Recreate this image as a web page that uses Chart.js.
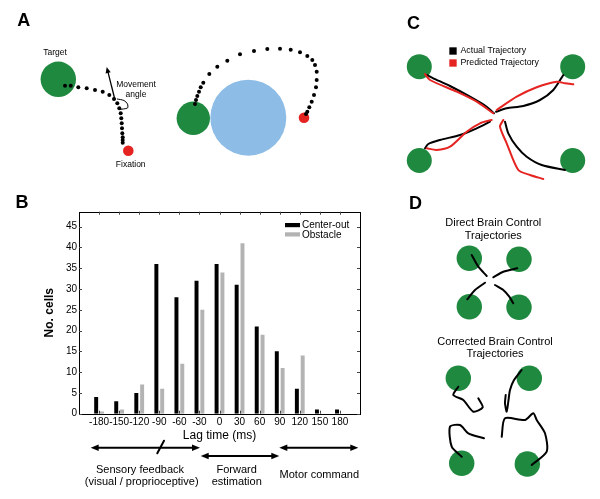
<!DOCTYPE html>
<html><head><meta charset="utf-8">
<script src="https://cdn.jsdelivr.net/npm/chart.js@4.4.1/dist/chart.umd.min.js"></script>
<style>
html,body{margin:0;padding:0;background:#fff;}
#wrap{position:relative;width:600px;height:499px;overflow:hidden;}
#wrap canvas{position:absolute;left:0;top:0;}
</style></head><body>
<div id="wrap"><canvas id="bg" width="600" height="499"></canvas><canvas id="bar" width="600" height="499"></canvas></div>
<script>
// ---------- Panel B data ----------
const lagTimes = [-180,-150,-120,-90,-60,-30,0,30,60,90,120,150,180];
const centerOut = [4,3,5,36,28,32,36,31,21,15,6,1,1];
const obstacle  = [0.5,1,7,6,12,25,34,41,19,11,14,0,0];
const yTickValues = [0,5,10,15,20,25,30,35,40,45];
const seriesNames = ['Center-out','Obstacle'];

// ---------- Diagram data (panels A, C, D), page pixel space ----------
const greenCircles = [[58.3,79.3,17.7],[193.3,118.3,16.7],
  [419.3,66.7,12.5],[572.7,66.7,12.5],[419.3,160.5,12.5],[572.7,160.5,12.5],
  [469.3,258.3,12.7],[519,259.3,12.7],[469.3,306.7,12.7],[519,307.3,12.7],
  [458.3,378.3,12.7],[529.3,378.3,12.7],[461.7,463.3,12.7],[527.3,464,12.7]];
const blueCircles = [[248.3,117.7,38]];
const redCircles = [[128.3,150.7,5.3],[304,117.7,5.3]];
const dotsA1 = [[65,85.7],[70.7,85.7],[78.3,87.3],[86.7,88.3],[95,90],[102.7,91.7],[109.3,95],[114,99],[117.3,103.3],[119.3,108.3],[120.7,113.3],[121.3,118.3],[121.7,123.3],[122,128.3],[122.3,133.3],[122.7,137.3],[122.7,140],[122.7,142.7]];
const dotsA2 = [[195,104],[196,100],[197.3,96],[199,91.7],[200.7,87.3],[203.3,82.7],[209.3,74],[217.3,66.7],[227.3,60.7],[240,54.3],[254,51],[267.3,49],[280,48.7],[290.7,49.7],[300,52.3],[307.3,56],[312.3,60],[315,65],[316.7,71.7],[316.7,80],[316,87.3],[314,95],[311.7,101.7],[309.3,107.3],[307.3,111.7],[306,114]];
const angleArc = [[117.3,99],[124,100.5],[127.5,104],[127.5,108],[119,109.5]];
const blackPathsC = [
  [[426.7,75],[433.3,78.3],[450,86],[470,96.7],[486.7,106.7],[494,113.3]],
  [[496,111.7],[506.7,108.3],[523.3,106],[540,100],[553.3,90],[563.3,75]],
  [[490,121.7],[476.7,128.3],[460,135],[440,140],[428.3,144],[425,148.3]],
  [[505,121.7],[508.3,133.3],[516.7,146.7],[526.7,156.7],[541.7,165],[565,170]]];
const redPathsC = [
  [[425,74],[430,80],[456.7,91.7],[476.7,101.7],[493.3,113.3]],
  [[496.7,110],[516.7,96.7],[536.7,87.3],[556.7,81.7],[565,83.3],[573.3,84.3]],
  [[491.7,120],[480,123.3],[466.7,131.7],[450,146.7],[436.7,150],[426.7,148.3]],
  [[503.3,120],[500,126.7],[506.7,143.3],[518.3,170],[530,175],[543.3,179]]];
const pathsD = [
  [[471.7,255],[478.3,266.7],[486.7,276]],
  [[493.3,277.3],[503.3,271.7],[517.3,268.3]],
  [[485,282.7],[475,290],[467.3,299.3]],
  [[495,285],[503.3,290],[509.3,296.7],[513.3,303.3]],
  [[458.3,386.7],[453.3,395],[463.3,400],[473.3,411.7],[482.7,407.3],[478.3,398.3]],
  [[521.7,370],[514,380],[510,390],[508.3,401.7],[506.7,411.7],[505,403.3],[505.7,395]],
  [[461.7,456.7],[451.7,446.7],[450,426.7],[460,425],[468.3,433.3],[484,438.3]],
  [[531.7,465],[546.7,451.7],[545,433.3],[536.7,420],[533.3,413.3],[525,420],[505,418.3],[501.7,436.7]]];
const legendC = [['Actual Trajectory','#000',453,51],['Predicted Trajectory','#e52421',453,63]];
// arrows: [x1,y1,x2,y2,headAtStart,headAtEnd]
const arrows = [[115,100,106.7,67,false,true],[90.7,447.7,200,447.7,true,true],[200.7,456,279.3,456,true,true],[279.3,447.7,358.3,447.7,true,true]];
const slashB = [[157.3,453.3],[164,440.7]];
const labels = [
  ['A',23.7,21.5,'bold 18px','center'],['B',22,203,'bold 18px','center'],['C',413.5,24,'bold 18px','center'],['D',415.5,204,'bold 18px','center'],
  ['Target',55,53,'8.5px','center'],['Movement',136,84.3,'8.5px','center'],['angle',136,95,'8.5px','center'],['Fixation',130.7,165,'8.5px','center'],
  ['Direct Brain Control',493.3,223.3,'11px','center'],['Trajectories',493.3,236,'11px','center'],
  ['Corrected Brain Control',495,341.7,'11px','center'],['Trajectories',495,354,'11px','center'],
  ['Sensory feedback',140,470,'11px','center'],['(visual / proprioceptive)',141.7,481.7,'11px','center'],
  ['Forward',236.7,470,'11px','center'],['estimation',236.7,481.7,'11px','center'],
  ['Motor command',319.3,475,'11px','center']];

const FONT = '"Liberation Sans", Arial, Helvetica, sans-serif';
const GREEN = '#1f8a3f', BLUE = '#8dbde6', RED = '#e52421';
const pts = a => a.map(p => ({x:p[0], y:p[1]}));

function circleSet(list, color){
  return {type:'scatter', data: pts(list), pointRadius: list.map(c=>c[2]), pointHoverRadius: list.map(c=>c[2]),
    backgroundColor: color, borderWidth:0, pointBorderWidth:0, order: 10};
}
function lineSet(list, color, w, order){
  return {type:'line', data: pts(list), borderColor: color, borderWidth: w, pointRadius:0, fill:false, tension:0.25, order: order||1, borderCapStyle:'round', borderJoinStyle:'round'};
}

const bgDatasets = [
  circleSet(greenCircles, GREEN),
  circleSet(blueCircles, BLUE),
  circleSet(redCircles, RED),
  {type:'scatter', data: pts(dotsA1), pointRadius:2, backgroundColor:'#000', borderWidth:0, order:0},
  {type:'scatter', data: pts(dotsA2), pointRadius:2, backgroundColor:'#000', borderWidth:0, order:0},
  lineSet(angleArc,'#000',1,1),
  lineSet(slashB,'#000',2,1),
  ...blackPathsC.map(p=>lineSet(p,'#000',2,2)),
  ...redPathsC.map(p=>lineSet(p,RED,2,1)),
  ...pathsD.map(p=>lineSet(p,'#000',2,1)),
  {type:'scatter', data: legendC.map(l=>({x:l[2],y:l[3]})), pointStyle:'rect', pointRadius:5.2, backgroundColor: legendC.map(l=>l[1]), borderWidth:0, order:0}
];

const bgPlugin = {
  id:'bgdraw',
  afterDatasetsDraw(chart){
    const ctx = chart.ctx, sx = chart.scales.x, sy = chart.scales.y;
    ctx.save();
    ctx.strokeStyle = '#000'; ctx.fillStyle = '#000';
    arrows.forEach(a=>{
      const x1=sx.getPixelForValue(a[0]), y1=sy.getPixelForValue(a[1]), x2=sx.getPixelForValue(a[2]), y2=sy.getPixelForValue(a[3]);
      const ang = Math.atan2(y2-y1,x2-x1);
      const big = a[1] > 400;
      const L = big ? 8 : 6, W = big ? 3.2 : 2.6;
      ctx.lineWidth = big ? 2 : 1.3;
      ctx.beginPath();
      ctx.moveTo(x1 + (a[4]?Math.cos(ang)*L*0.8:0), y1 + (a[4]?Math.sin(ang)*L*0.8:0));
      ctx.lineTo(x2 - (a[5]?Math.cos(ang)*L*0.8:0), y2 - (a[5]?Math.sin(ang)*L*0.8:0));
      ctx.stroke();
      const head = (x,y,t)=>{
        ctx.beginPath();
        ctx.moveTo(x,y);
        ctx.lineTo(x - Math.cos(t)*L - Math.sin(t)*W, y - Math.sin(t)*L + Math.cos(t)*W);
        ctx.lineTo(x - Math.cos(t)*L + Math.sin(t)*W, y - Math.sin(t)*L - Math.cos(t)*W);
        ctx.closePath(); ctx.fill();
      };
      if (a[5]) head(x2,y2,ang);
      if (a[4]) head(x1,y1,ang+Math.PI);
    });
    ctx.textBaseline = 'middle';
    labels.forEach(l=>{
      ctx.font = l[3] + ' ' + FONT;
      ctx.textAlign = l[4];
      ctx.fillStyle = '#000';
      ctx.fillText(l[0], sx.getPixelForValue(l[1]), sy.getPixelForValue(l[2]));
    });
    ctx.font = '8.8px ' + FONT; ctx.textAlign = 'left';
    legendC.forEach(l=>{
      ctx.fillText(l[0], sx.getPixelForValue(l[2]+7.5), sy.getPixelForValue(l[3]));
    });
    ctx.restore();
  }
};

new Chart(document.getElementById('bg'), {
  type:'scatter',
  data:{datasets: bgDatasets},
  options:{
    responsive:false, animation:false, events:[],
    layout:{padding:0, autoPadding:false},
    plugins:{legend:{display:false}, tooltip:{enabled:false}},
    scales:{
      x:{type:'linear', min:0, max:600, display:false},
      y:{type:'linear', min:0, max:499, reverse:true, display:false}
    }
  },
  plugins:[bgPlugin]
});

// ---------- Panel B bar chart ----------
const boxPlugin = {
  id:'boxticks',
  afterDatasetsDraw(chart){
    const ctx = chart.ctx, a = chart.chartArea, sx = chart.scales.x, sy = chart.scales.y;
    ctx.save();
    ctx.strokeStyle = '#000'; ctx.lineWidth = 1;
    ctx.strokeRect(Math.round(a.left)+0.5, Math.round(a.top)+0.5, Math.round(a.right-a.left), Math.round(a.bottom-a.top));
    ctx.strokeStyle = '#444';
    ctx.beginPath();
    lagTimes.forEach(v=>{
      const x = Math.round(sx.getPixelForValue(v))+0.5;
      ctx.moveTo(x, a.bottom); ctx.lineTo(x, a.bottom-3);
      ctx.moveTo(x, a.top); ctx.lineTo(x, a.top+3);
    });
    yTickValues.forEach(v=>{
      const y = Math.round(sy.getPixelForValue(v))+0.5;
      ctx.moveTo(a.left, y); ctx.lineTo(a.left+3, y);
      ctx.moveTo(a.right, y); ctx.lineTo(a.right-3, y);
    });
    ctx.stroke();
    ctx.font = '10px ' + FONT; ctx.textBaseline = 'middle'; ctx.textAlign = 'left';
    chart.data.datasets.forEach((ds,i)=>{
      const y = a.top + 13.3 + i*9.3;
      ctx.fillStyle = ds.backgroundColor;
      ctx.fillRect(285, y-2, 15, 4.2);
      ctx.fillStyle = '#000';
      ctx.fillText(ds.label, 302, y+0.5);
    });
    ctx.restore();
  }
};

new Chart(document.getElementById('bar'), {
  type:'bar',
  data:{datasets:[
    {label: seriesNames[0], data: lagTimes.map((x,i)=>({x, y:centerOut[i]})), backgroundColor:'#000', categoryPercentage:0.58, barPercentage:0.68},
    {label: seriesNames[1], data: lagTimes.map((x,i)=>({x, y:obstacle[i]})), backgroundColor:'#b3b3b3', categoryPercentage:0.58, barPercentage:0.68}
  ]},
  options:{
    responsive:false, animation:false, events:[],
    layout:{padding:{left:0, top:211.7, right:240, bottom:0}},
    plugins:{legend:{display:false}, tooltip:{enabled:false}},
    scales:{
      x:{type:'linear', min:-210, max:210, offset:false,
        afterBuildTicks: s => { s.ticks = lagTimes.map(v=>({value:v})); },
        ticks:{font:{family:FONT, size:10}, color:'#000', padding:3, maxRotation:0, autoSkip:false, callback: v => String(v)},
        grid:{display:false, drawTicks:false}, border:{display:false},
        title:{display:true, text:'Lag time (ms)', color:'#000', font:{family:FONT, size:12}, padding:{top:0, bottom:56.3}},
        afterFit: s => { s.height = 499 - 413.7; }
      },
      y:{type:'linear', min:0, max:48.6,
        afterBuildTicks: s => { s.ticks = yTickValues.map(v=>({value:v})); },
        ticks:{font:{family:FONT, size:10}, color:'#000', padding:2, callback: v => String(v)},
        grid:{display:false, drawTicks:false}, border:{display:false},
        title:{display:true, text:'No. cells', color:'#000', font:{family:FONT, size:12, weight:'bold'}, padding:{top:42.5, bottom:0}},
        afterFit: s => { s.width = 79; }
      }
    }
  },
  plugins:[boxPlugin]
});
</script>
</body></html>
